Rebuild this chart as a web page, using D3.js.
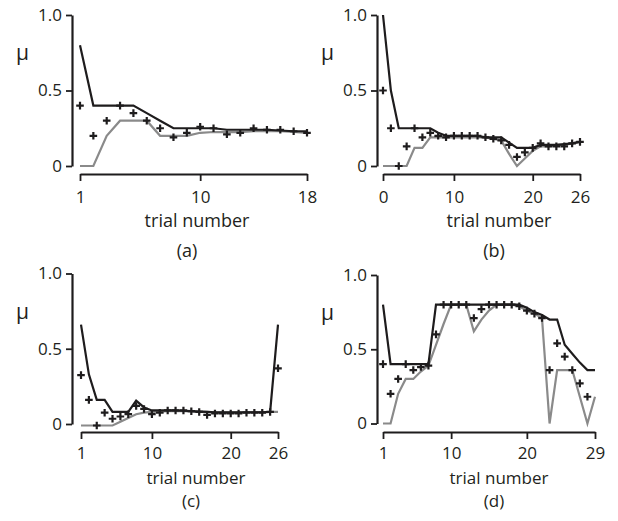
<!DOCTYPE html>
<html>
<head>
<meta charset="utf-8">
<script src="https://cdn.jsdelivr.net/npm/d3@7"></script>
<style>
body { margin: 0; background: #fff; }
svg { display: block; }
text { font-family: "Open Sans", "Noto Sans", sans-serif; fill: #231f20; }
</style>
</head>
<body>
<svg id="chart" width="618" height="521"></svg>
<script>
// panel (a): 18 trials
var aBlack = [0.8, 0.4, 0.4, 0.4, 0.4, 0.35, 0.3, 0.25, 0.25, 0.25, 0.25, 0.24, 0.24, 0.24, 0.24, 0.235, 0.23, 0.23];
var aGray = [0, 0, 0.2, 0.3, 0.3, 0.3, 0.2, 0.2, 0.2, 0.22, 0.225, 0.225, 0.225, 0.23, 0.23, 0.23, 0.225, 0.22];
var aCross = [0.4, 0.2, 0.3, 0.4, 0.35, 0.3, 0.25, 0.19, 0.22, 0.26, 0.25, 0.21, 0.22, 0.25, 0.24, 0.24, 0.23, 0.22];
var aTicks = [1, 10, 18];
var aTickLabels = ['1', '10', '18'];

// panel (b): 26 trials (first tick printed as 0)
var bBlack = [1.0, 0.5, 0.25, 0.25, 0.25, 0.25, 0.25, 0.22, 0.2, 0.2, 0.2, 0.2, 0.2, 0.19, 0.19, 0.19, 0.155, 0.12, 0.12, 0.12, 0.14, 0.14, 0.14, 0.145, 0.15, 0.16];
var bGray = [0, 0, 0, 0, 0.12, 0.12, 0.19, 0.19, 0.19, 0.19, 0.19, 0.19, 0.19, 0.19, 0.18, 0.17, 0.08, 0, 0.05, 0.1, 0.13, 0.13, 0.14, 0.14, 0.15, 0.16];
var bCross = [0.5, 0.25, 0, 0.13, 0.25, 0.19, 0.22, 0.2, 0.19, 0.2, 0.2, 0.2, 0.2, 0.19, 0.18, 0.17, 0.14, 0.06, 0.09, 0.12, 0.15, 0.13, 0.13, 0.13, 0.15, 0.16];
var bTicks = [1, 10, 20, 26];
var bTickLabels = ['0', '10', '20', '26'];

// panel (c): 26 trials
var cBlack = [0.66, 0.33, 0.16, 0.16, 0.08, 0.08, 0.08, 0.155, 0.11, 0.09, 0.09, 0.09, 0.09, 0.088, 0.085, 0.082, 0.08, 0.078, 0.077, 0.077, 0.077, 0.078, 0.078, 0.078, 0.08, 0.66];
var cGray = [-0.01, -0.01, -0.01, -0.01, -0.01, 0.015, 0.04, 0.065, 0.075, 0.08, 0.082, 0.085, 0.085, 0.085, 0.083, 0.082, 0.08, 0.078, 0.077, 0.077, 0.077, 0.078, 0.078, 0.078, 0.08, 0.08];
var cCross = [0.325, 0.16, -0.01, 0.075, 0.035, 0.05, 0.065, 0.12, 0.1, 0.065, 0.075, 0.09, 0.09, 0.09, 0.085, 0.08, 0.06, 0.07, 0.07, 0.07, 0.07, 0.075, 0.075, 0.075, 0.08, 0.37];
var cTicks = [1, 10, 20, 26];
var cTickLabels = ['1', '10', '20', '26'];

// panel (d): 29 trials, 28 crosses
var dBlack = [0.8, 0.4, 0.4, 0.4, 0.4, 0.4, 0.4, 0.8, 0.8, 0.8, 0.8, 0.8, 0.8, 0.8, 0.8, 0.8, 0.8, 0.8, 0.8, 0.78, 0.75, 0.73, 0.7, 0.7, 0.53, 0.47, 0.41, 0.36, 0.36];
var dGray = [0, 0, 0.2, 0.3, 0.3, 0.35, 0.39, 0.53, 0.67, 0.8, 0.8, 0.8, 0.62, 0.7, 0.76, 0.8, 0.8, 0.8, 0.79, 0.76, 0.74, 0.71, 0, 0.36, 0.36, 0.36, 0.18, 0, 0.18];
var dCross = [0.4, 0.2, 0.3, 0.4, 0.36, 0.38, 0.39, 0.6, 0.8, 0.8, 0.8, 0.8, 0.71, 0.77, 0.8, 0.8, 0.8, 0.8, 0.79, 0.76, 0.74, 0.71, 0.36, 0.54, 0.45, 0.36, 0.27, 0.18];
var dTicks = [1, 10, 20, 29];
var dTickLabels = ['1', '10', '20', '29'];

var yTicks = [0, 0.5, 1];
var yTickLabels = ['0', '0.5', '1.0'];

// colours / sizes
var blackColor = '#1e1c1d';
var grayColor = '#8a8a8a';
var tickFont = 17;

var svg = d3.select('#chart');

// draw one panel; box holds pixel geometry only
function drawPanel(box, black, gray, cross, xTicks, xTickLabels, caption) {
	var n = black.length;
	var x = d3.scaleLinear().domain([1, n]).range([box.x0, box.x1]);
	var y = d3.scaleLinear().domain([0, 1]).range([box.y0, box.y1]);
	var g = svg.append('g');

	// y axis
	var yAxis = d3.axisLeft(y).tickValues(yTicks).tickFormat(function(d, i) {
		return yTickLabels[i];
	}).tickSizeInner(6).tickSizeOuter(0).tickPadding(4);
	var ya = g.append('g').attr('transform', 'translate(' + box.ax + ',0)').call(yAxis);

	// x axis
	var xAxis = d3.axisBottom(x).tickValues(xTicks).tickFormat(function(d, i) {
		return xTickLabels[i];
	}).tickSizeInner(7).tickSizeOuter(0).tickPadding(box.pad);
	var xa = g.append('g').attr('transform', 'translate(0,' + box.ay + ')').call(xAxis);

	[ya, xa].forEach(function(a) {
		a.attr('font-family', null).attr('font-size', null);
		a.selectAll('.domain').attr('stroke', blackColor).attr('stroke-width', 2.2);
		a.selectAll('.tick line').attr('stroke', blackColor).attr('stroke-width', 1.8);
		a.selectAll('.tick text').style('font-size', tickFont + 'px').attr('fill', '#231f20');
	});

	// mu label
	g.append('text').attr('x', box.ax - 56).attr('y', box.y1 + 45).style('font-size', '21px').text('\u03bc');

	// axis title and caption
	g.append('text').attr('x', box.tx).attr('y', box.ty).attr('text-anchor', 'middle')
		.style('font-size', box.fs + 'px').text('trial number');
	g.append('text').attr('x', box.cx).attr('y', box.cy).attr('text-anchor', 'middle')
		.style('font-size', box.fs + 'px').text(caption);

	var line = d3.line().x(function(d, i) {
		return x(i + 1);
	}).y(function(d) {
		return y(d);
	});

	g.append('path').datum(gray).attr('d', line).attr('fill', 'none')
		.attr('stroke', grayColor).attr('stroke-width', 2.2).attr('stroke-linejoin', 'miter');
	g.append('path').datum(black).attr('d', line).attr('fill', 'none')
		.attr('stroke', blackColor).attr('stroke-width', 2.2).attr('stroke-linejoin', 'miter');

	// plus markers
	g.selectAll('path.cross').data(cross).enter().append('path').classed('cross', true)
		.attr('transform', function(d, i) {
			return 'translate(' + x(i + 1) + ',' + y(d) + ')';
		}).attr('d', 'M-3.8,0H3.8M0,-3.8V3.8').attr('stroke', blackColor)
		.attr('stroke-width', 2.2).attr('fill', 'none');
}

drawPanel({ax: 72, x0: 80, x1: 307, y0: 166, y1: 15, ay: 174, pad: 10, tx: 197, ty: 227, cx: 187, cy: 257, fs: 18},
		aBlack, aGray, aCross, aTicks, aTickLabels, '(a)');
drawPanel({ax: 377, x0: 383, x1: 580, y0: 166, y1: 15, ay: 174, pad: 10, tx: 499, ty: 227, cx: 494, cy: 257, fs: 18},
		bBlack, bGray, bCross, bTicks, bTickLabels, '(b)');
drawPanel({ax: 72, x0: 81, x1: 278, y0: 424, y1: 273.5, ay: 432, pad: 8, tx: 196, ty: 484, cx: 191, cy: 507, fs: 17},
		cBlack, cGray, cCross, cTicks, cTickLabels, '(c)');
drawPanel({ax: 377, x0: 383, x1: 595, y0: 423.5, y1: 275, ay: 432, pad: 8, tx: 499, ty: 484, cx: 494, cy: 507, fs: 17},
		dBlack, dGray, dCross, dTicks, dTickLabels, '(d)');
</script>
</body>
</html>
